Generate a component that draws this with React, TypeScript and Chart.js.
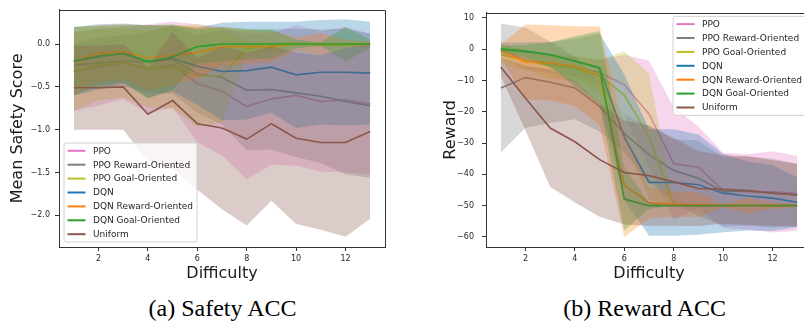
import React, { useEffect, useRef } from "react";
import { Chart, registerables } from "chart.js";
Chart.register(...registerables);

// ---------- data ----------
const difficulty = [1, 2, 3, 4, 5, 6, 7, 8, 9, 10, 11, 12, 13];
const seriesNames = [
  "PPO",
  "PPO Reward-Oriented",
  "PPO Goal-Oriented",
  "DQN",
  "DQN Reward-Oriented",
  "DQN Goal-Oriented",
  "Uniform",
];
const seriesColors = ["#e377c2", "#7f7f7f", "#bcbd22", "#1f77b4", "#ff7f0e", "#2ca02c", "#8c564b"];
const xTicks = [2, 4, 6, 8, 10, 12];

// (a) Safety ACC — mean and std per difficulty
const safetyPPO = [-0.32, -0.27, -0.22, -0.29, -0.24, -0.46, -0.55, -0.73, -0.64, -0.6, -0.67, -0.65, -0.7];
const safetyPPOStd = [0.46, 0.45, 0.42, 0.52, 0.5, 0.69, 0.75, 0.85, 0.77, 0.82, 0.82, 0.85, 0.82];
const safetyPPOReward = [-0.25, -0.22, -0.2, -0.21, -0.18, -0.35, -0.39, -0.54, -0.53, -0.57, -0.61, -0.67, -0.72];
const safetyPPORewardStd = [0.25, 0.3, 0.3, 0.35, 0.4, 0.45, 0.55, 0.7, 0.7, 0.75, 0.78, 0.85, 0.84];
const safetyPPOGoal = [-0.32, -0.24, -0.22, -0.29, -0.27, -0.37, -0.37, -0.05, -0.03, 0, -0.01, -0.01, 0];
const safetyPPOGoalStd = [0.46, 0.42, 0.4, 0.45, 0.48, 0.6, 0.55, 0.08, 0.05, 0.02, 0.02, 0.02, 0.01];
const safetyDQN = [-0.2, -0.15, -0.11, -0.2, -0.17, -0.26, -0.32, -0.31, -0.27, -0.36, -0.33, -0.33, -0.34];
const safetyDQNStd = [0.4, 0.38, 0.35, 0.42, 0.38, 0.45, 0.57, 0.57, 0.53, 0.62, 0.61, 0.62, 0.6];
const safetyDQNReward = [-0.2, -0.11, -0.09, -0.16, -0.13, -0.1, -0.03, -0.03, -0.03, 0, 0, 0, 0];
const safetyDQNRewardStd = [0.4, 0.33, 0.32, 0.38, 0.35, 0.3, 0.23, 0.2, 0.18, 0.08, 0.13, 0.05, 0.03];
const safetyDQNGoal = [-0.2, -0.14, -0.11, -0.21, -0.15, -0.03, 0, 0, 0, 0, 0, 0, 0];
const safetyDQNGoalStd = [0.4, 0.35, 0.33, 0.43, 0.38, 0.2, 0.2, 0.18, 0.17, 0.05, 0.02, 0.2, 0.05];
const safetyUniform = [-0.51, -0.51, -0.5, -0.82, -0.66, -0.93, -0.98, -1.11, -0.93, -1.1, -1.15, -1.15, -1.02];
const safetyUniformStd = [0.49, 0.49, 0.5, 0.55, 0.8, 0.77, 0.95, 1.01, 0.9, 1.0, 1.02, 1.1, 1.02];
const safetyTicks = [0, -0.5, -1, -1.5, -2];

// (b) Reward ACC — mean and std per difficulty
const rewardPPO = [-0.3, -3.4, -4.6, -5.7, -7.5, -11.4, -20.7, -36.6, -37.7, -45.1, -45.6, -45.6, -46.1];
const rewardPPOStd = [2, 3, 3, 3, 4, 9.6, 17, 18, 13, 12, 12, 13, 12];
const rewardPPOReward = [-12.4, -9.1, -10.6, -12.4, -18.3, -27.0, -33.7, -38.8, -41.2, -45.5, -45.3, -46.0, -46.6];
const rewardPPORewardStd = [20.6, 16, 13, 10, 8, 6, 9, 10, 12, 11, 11, 11, 10];
const rewardPPOGoal = [-1.8, -3.6, -5.4, -6.2, -8.5, -14.7, -27.9, -49.6, -50, -50, -50, -50, -50];
const rewardPPOGoalStd = [3, 3, 4, 4, 5, 14, 20, 1, 0.3, 0, 0, 0, 0];
const rewardDQN = [0, -0.8, -1.8, -3.7, -6.0, -28.1, -42.6, -42.6, -43.3, -46.0, -46.9, -47.6, -48.9];
const rewardDQNStd = [2, 3, 4, 7, 11, 20, 17, 17, 16, 12.5, 11, 10.5, 8];
const rewardDQNReward = [-0.5, -4.1, -4.4, -5.4, -8.5, -43.5, -49.1, -49.5, -49.7, -50, -50, -50, -50];
const rewardDQNRewardStd = [2, 12, 12, 12.7, 15.7, 16.5, 5, 4, 4, 0.5, 2.5, 1, 0.5];
const rewardDQNGoal = [0, -0.6, -1.8, -3.9, -6.0, -47.9, -50, -50, -50, -50, -50, -50, -50];
const rewardDQNGoalStd = [1, 2, 4, 8, 11.8, 10, 1, 0, 0, 0, 0, 0, 0];
const rewardUniform = [-5.7, -15.7, -25.2, -29.6, -35.3, -39.4, -40.4, -42.4, -44.5, -44.8, -45.2, -46.0, -46.6];
const rewardUniformStd = [3, 10.3, 18.8, 19.4, 18.2, 16.6, 16, 14, 12, 11, 11, 10.5, 10];
const rewardTicks = [10, 0, -10, -20, -30, -40, -50, -60];

const safetyMeans = [safetyPPO, safetyPPOReward, safetyPPOGoal, safetyDQN, safetyDQNReward, safetyDQNGoal, safetyUniform];
const safetyStds = [safetyPPOStd, safetyPPORewardStd, safetyPPOGoalStd, safetyDQNStd, safetyDQNRewardStd, safetyDQNGoalStd, safetyUniformStd];
const rewardMeans = [rewardPPO, rewardPPOReward, rewardPPOGoal, rewardDQN, rewardDQNReward, rewardDQNGoal, rewardUniform];
const rewardStds = [rewardPPOStd, rewardPPORewardStd, rewardPPOGoalStd, rewardDQNStd, rewardDQNRewardStd, rewardDQNGoalStd, rewardUniformStd];

// ---------- helpers ----------
const FONT = "'DejaVu Sans', sans-serif";
const minus = "\u2212";

function hexToRgba(hex: string, a: number) {
  const n = parseInt(hex.slice(1), 16);
  return `rgba(${(n >> 16) & 255},${(n >> 8) & 255},${n & 255},${a})`;
}

function buildDatasets(means: number[][], stds: number[][]) {
  const ds: any[] = [];
  means.forEach((m, i) => {
    const s = stds[i];
    const color = seriesColors[i];
    const upperIdx = ds.length;
    ds.push({
      label: "_u" + i,
      data: difficulty.map((x, k) => ({ x, y: m[k] + s[k] })),
      borderWidth: 0,
      pointRadius: 0,
      borderColor: "rgba(0,0,0,0)",
      fill: false,
      order: 1000 - (2 * i + 1),
    });
    ds.push({
      label: "_l" + i,
      data: difficulty.map((x, k) => ({ x, y: m[k] - s[k] })),
      borderWidth: 0,
      pointRadius: 0,
      borderColor: "rgba(0,0,0,0)",
      backgroundColor: hexToRgba(color, 0.3),
      fill: { target: upperIdx },
      order: 1000 - (2 * i + 1),
    });
    ds.push({
      label: seriesNames[i],
      data: difficulty.map((x, k) => ({ x, y: m[k] })),
      borderColor: color,
      borderWidth: 1.6,
      pointRadius: 0,
      fill: false,
      tension: 0,
      order: 1000 - 2 * i,
    });
  });
  return ds;
}

type LegendBox = { anchor: "bl" | "tr"; dx: number; dy: number; w: number; h: number };

function framePlugin(legend: LegendBox) {
  return {
    id: "frameLegend",
    afterDraw(chart: any) {
      const { ctx, chartArea } = chart;
      const { left, right, top, bottom } = chartArea;
      ctx.save();
      ctx.strokeStyle = "#333333";
      ctx.lineWidth = 1;
      ctx.beginPath();
      ctx.moveTo(Math.round(left) + 0.5, Math.round(top) + 0.5);
      ctx.lineTo(Math.round(right) + 0.5, Math.round(top) + 0.5);
      ctx.lineTo(Math.round(right) + 0.5, Math.round(bottom) + 0.5);
      ctx.stroke();

      // legend box
      let bx: number, by: number;
      if (legend.anchor === "bl") {
        bx = left + legend.dx;
        by = bottom - legend.dy - legend.h;
      } else {
        bx = right - legend.dx - legend.w;
        by = top + legend.dy;
      }
      const r = 2.5;
      ctx.beginPath();
      ctx.moveTo(bx + r, by);
      ctx.lineTo(bx + legend.w - r, by);
      ctx.quadraticCurveTo(bx + legend.w, by, bx + legend.w, by + r);
      ctx.lineTo(bx + legend.w, by + legend.h - r);
      ctx.quadraticCurveTo(bx + legend.w, by + legend.h, bx + legend.w - r, by + legend.h);
      ctx.lineTo(bx + r, by + legend.h);
      ctx.quadraticCurveTo(bx, by + legend.h, bx, by + legend.h - r);
      ctx.lineTo(bx, by + r);
      ctx.quadraticCurveTo(bx, by, bx + r, by);
      ctx.closePath();
      ctx.fillStyle = "rgba(255,255,255,0.8)";
      ctx.fill();
      ctx.strokeStyle = "#d0d0d0";
      ctx.lineWidth = 1;
      ctx.stroke();

      ctx.font = `9px ${FONT}`;
      ctx.textBaseline = "middle";
      ctx.textAlign = "left";
      const rowH = 13.9;
      seriesNames.forEach((name, i) => {
        const y = by + 7.8 + i * rowH;
        ctx.strokeStyle = seriesColors[i];
        ctx.lineWidth = 2;
        ctx.beginPath();
        ctx.moveTo(bx + 3.5, y);
        ctx.lineTo(bx + 21.5, y);
        ctx.stroke();
        ctx.fillStyle = "#262626";
        ctx.fillText(name, bx + 29, y + 0.5);
      });
      ctx.restore();
    },
  };
}

function makeConfig(opts: {
  means: number[][];
  stds: number[][];
  yMin: number;
  yMax: number;
  yTicks: number[];
  yFmt: (v: number) => string;
  yTitle: string;
  yWidth: number;
  yTitlePad: number;
  yTickPad: number;
  rightPad: number;
  legend: LegendBox;
}) {
  const tickFont = { family: FONT, size: 8 };
  const titleFont = { family: FONT, size: 16 };
  return {
    type: "line",
    data: { datasets: buildDatasets(opts.means, opts.stds) },
    options: {
      animation: false,
      responsive: false,
      devicePixelRatio: 1,
      events: [],
      layout: { padding: { top: 5, right: opts.rightPad, left: 0, bottom: 0 } },
      plugins: {
        legend: { display: false },
        tooltip: { enabled: false },
        filler: { propagate: false },
      },
      scales: {
        x: {
          type: "linear",
          min: 0.4,
          max: 13.6,
          afterBuildTicks: (s: any) => {
            s.ticks = xTicks.map((v) => ({ value: v }));
          },
          afterFit: (s: any) => {
            s.height = 38;
          },
          ticks: { font: tickFont, color: "#262626", padding: 3, maxRotation: 0, autoSkip: false },
          grid: { drawOnChartArea: false, drawTicks: true, tickLength: 4, color: "#333333" },
          border: { display: true, color: "#333333", width: 1 },
          title: {
            display: true,
            text: "Difficulty",
            font: titleFont,
            color: "#1a1a1a",
            padding: { top: 0, bottom: 1.4 },
          },
        },
        y: {
          type: "linear",
          min: opts.yMin,
          max: opts.yMax,
          afterBuildTicks: (s: any) => {
            s.ticks = opts.yTicks.map((v) => ({ value: v }));
          },
          afterFit: (s: any) => {
            s.width = opts.yWidth;
          },
          ticks: {
            font: tickFont,
            color: "#262626",
            padding: opts.yTickPad,
            autoSkip: false,
            callback: (v: any) => opts.yFmt(Number(v)),
          },
          grid: { drawOnChartArea: false, drawTicks: true, tickLength: 4, color: "#333333" },
          border: { display: true, color: "#333333", width: 1 },
          title: {
            display: true,
            text: opts.yTitle,
            font: titleFont,
            color: "#1a1a1a",
            padding: { top: opts.yTitlePad, bottom: 0 },
          },
        },
      },
    },
    plugins: [framePlugin(opts.legend)],
  } as any;
}

function ChartCanvas(props: { config: any; width: number; height: number; left: number; top: number }) {
  const ref = useRef<HTMLCanvasElement | null>(null);
  useEffect(() => {
    if (!ref.current) return;
    const chart = new Chart(ref.current, props.config);
    return () => chart.destroy();
  }, []);
  return (
    <canvas
      ref={ref}
      width={props.width}
      height={props.height}
      style={{ position: "absolute", left: props.left, top: props.top, width: props.width, height: props.height }}
    />
  );
}

const safetyConfig = makeConfig({
  means: safetyMeans,
  stds: safetyStds,
  yMin: -2.37,
  yMax: 0.4,
  yTicks: safetyTicks,
  yFmt: (v) => (Math.abs(v) < 1e-9 ? "0.0" : (v < 0 ? minus : "") + Math.abs(v).toFixed(1)),
  yTitle: "Mean Safety Score",
  yWidth: 59,
  yTitlePad: 8.4,
  yTickPad: 5,
  rightPad: 400 - 385,
  legend: { anchor: "bl", dx: 5, dy: 5, w: 133, h: 99 },
});

const rewardConfig = makeConfig({
  means: rewardMeans,
  stds: rewardStds,
  yMin: -63.2,
  yMax: 11.6,
  yTicks: rewardTicks,
  yFmt: (v) => (v < 0 ? minus + Math.abs(v) : String(v)),
  yTitle: "Reward",
  yWidth: 86,
  yTitlePad: 41.6,
  yTickPad: 8,
  rightPad: 420 - 412,
  legend: { anchor: "tr", dx: 4, dy: 3.5, w: 135, h: 99 },
});

export default function App() {
  useEffect(() => {
    document.body.style.margin = "0";
  }, []);
  const captionStyle: React.CSSProperties = {
    position: "absolute",
    top: 296.4,
    width: 300,
    textAlign: "center",
    fontFamily: "'Liberation Serif', 'Times New Roman', serif",
    fontSize: 24,
    lineHeight: "24px",
    color: "#000",
    whiteSpace: "nowrap",
  };
  return (
    <div
      style={{
        position: "fixed",
        left: 0,
        top: 0,
        width: 804,
        height: 322,
        overflow: "hidden",
        background: "#ffffff",
      }}
    >
      <ChartCanvas config={safetyConfig} width={400} height={285} left={0} top={0} />
      <ChartCanvas config={rewardConfig} width={420} height={285} left={400} top={0} />
      <div style={{ ...captionStyle, left: 222.5 - 150 }}>(a) Safety ACC</div>
      <div style={{ ...captionStyle, left: 644.7 - 150 }}>(b) Reward ACC</div>
    </div>
  );
}
